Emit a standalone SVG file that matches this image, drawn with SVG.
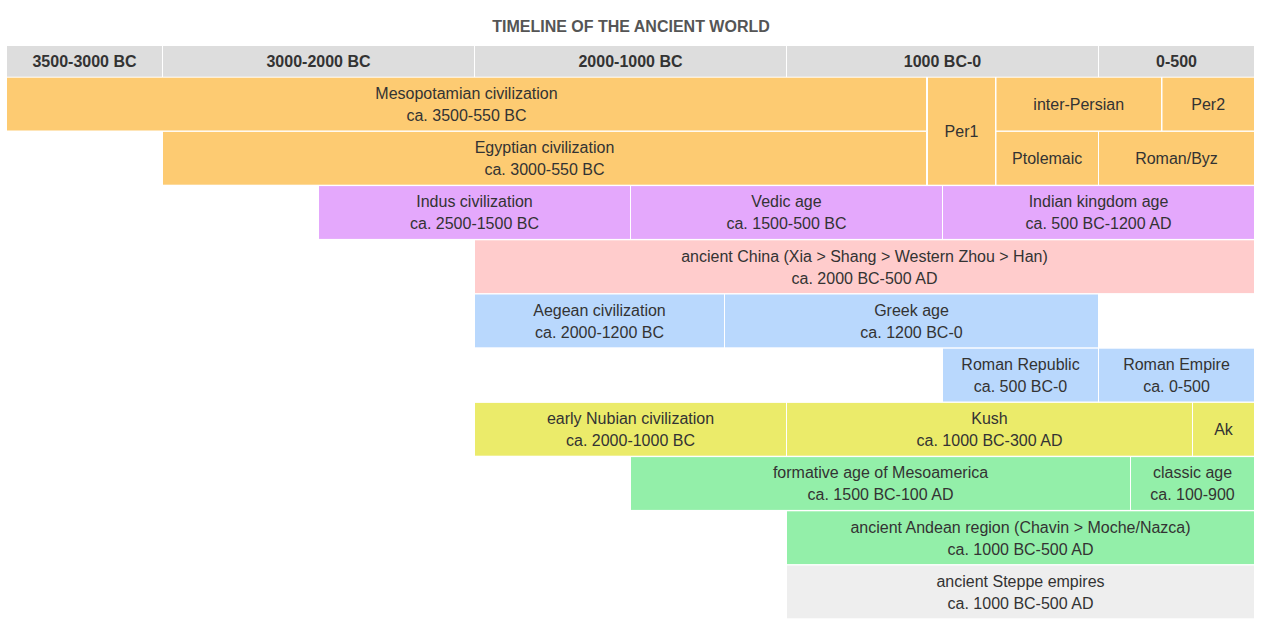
<svg xmlns="http://www.w3.org/2000/svg" width="1263" height="628" viewBox="0 0 1263 628">
<style>
text{font-family:"Liberation Sans",Arial,sans-serif;font-size:16px;fill:#333;text-anchor:middle}
.t{font-weight:bold;fill:#555}
.h{font-weight:bold}
.hd{fill:#dddddd}
.or{fill:#fdcb72}
.pu{fill:#e4a8fc}
.pk{fill:#ffcccc}
.bl{fill:#b9d8fd}
.ye{fill:#ebeb6a}
.gr{fill:#93efa9}
.gy{fill:#eeeeee}
</style>
<rect width="1263" height="628" fill="#ffffff"/>
<text class="t" x="631" y="32">TIMELINE OF THE ANCIENT WORLD</text>
<g id="header">
<rect class="hd" x="7" y="46" width="155" height="30.7"/><text class="h" x="84.5" y="67">3500-3000 BC</text>
<rect class="hd" x="163" y="46" width="311" height="30.7"/><text class="h" x="318.5" y="67">3000-2000 BC</text>
<rect class="hd" x="475" y="46" width="311" height="30.7"/><text class="h" x="630.5" y="67">2000-1000 BC</text>
<rect class="hd" x="787" y="46" width="311" height="30.7"/><text class="h" x="942.5" y="67">1000 BC-0</text>
<rect class="hd" x="1099" y="46" width="155" height="30.7"/><text class="h" x="1176.5" y="67">0-500</text>
</g>
<g id="mesopotamian"><rect class="or" x="7" y="77.7" width="919" height="52.8"/><text x="466.5" y="99">Mesopotamian civilization</text><text x="466.5" y="121">ca. 3500-550 BC</text></g>
<g id="per1"><rect class="or" x="928" y="77.7" width="67" height="107"/><text x="961.5" y="137">Per1</text></g>
<g id="inter-persian"><rect class="or" x="996.5" y="77.7" width="164.5" height="52.8"/><text x="1078.7" y="110">inter-Persian</text></g>
<g id="per2"><rect class="or" x="1162.5" y="77.7" width="91.5" height="52.8"/><text x="1208.2" y="110">Per2</text></g>
<g id="egyptian"><rect class="or" x="163" y="131.9" width="763" height="52.8"/><text x="544.5" y="153.2">Egyptian civilization</text><text x="544.5" y="175.2">ca. 3000-550 BC</text></g>
<g id="ptolemaic"><rect class="or" x="996.5" y="131.9" width="101.5" height="52.8"/><text x="1047.2" y="164.2">Ptolemaic</text></g>
<g id="roman-byz"><rect class="or" x="1099" y="131.9" width="155" height="52.8"/><text x="1176.5" y="164.2">Roman/Byz</text></g>
<g id="indus"><rect class="pu" x="319" y="186.1" width="311" height="52.8"/><text x="474.5" y="207.4">Indus civilization</text><text x="474.5" y="229.4">ca. 2500-1500 BC</text></g>
<g id="vedic"><rect class="pu" x="631" y="186.1" width="311" height="52.8"/><text x="786.5" y="207.4">Vedic age</text><text x="786.5" y="229.4">ca. 1500-500 BC</text></g>
<g id="indian-kingdom"><rect class="pu" x="943" y="186.1" width="311" height="52.8"/><text x="1098.5" y="207.4">Indian kingdom age</text><text x="1098.5" y="229.4">ca. 500 BC-1200 AD</text></g>
<g id="china"><rect class="pk" x="475" y="240.3" width="779" height="52.8"/><text x="864.5" y="261.6">ancient China (Xia &gt; Shang &gt; Western Zhou &gt; Han)</text><text x="864.5" y="283.6">ca. 2000 BC-500 AD</text></g>
<g id="aegean"><rect class="bl" x="475" y="294.5" width="249" height="52.8"/><text x="599.5" y="315.8">Aegean civilization</text><text x="599.5" y="337.8">ca. 2000-1200 BC</text></g>
<g id="greek"><rect class="bl" x="725" y="294.5" width="373" height="52.8"/><text x="911.5" y="315.8">Greek age</text><text x="911.5" y="337.8">ca. 1200 BC-0</text></g>
<g id="roman-republic"><rect class="bl" x="943" y="348.7" width="155" height="52.8"/><text x="1020.5" y="370">Roman Republic</text><text x="1020.5" y="392">ca. 500 BC-0</text></g>
<g id="roman-empire"><rect class="bl" x="1099" y="348.7" width="155" height="52.8"/><text x="1176.5" y="370">Roman Empire</text><text x="1176.5" y="392">ca. 0-500</text></g>
<g id="nubian"><rect class="ye" x="475" y="402.9" width="311" height="52.8"/><text x="630.5" y="424.2">early Nubian civilization</text><text x="630.5" y="446.2">ca. 2000-1000 BC</text></g>
<g id="kush"><rect class="ye" x="787" y="402.9" width="405" height="52.8"/><text x="989.5" y="424.2">Kush</text><text x="989.5" y="446.2">ca. 1000 BC-300 AD</text></g>
<g id="ak"><rect class="ye" x="1193" y="402.9" width="61" height="52.8"/><text x="1223.5" y="435.2">Ak</text></g>
<g id="mesoamerica-formative"><rect class="gr" x="631" y="457.1" width="499" height="52.8"/><text x="880.5" y="478.4">formative age of Mesoamerica</text><text x="880.5" y="500.4">ca. 1500 BC-100 AD</text></g>
<g id="mesoamerica-classic"><rect class="gr" x="1131" y="457.1" width="123" height="52.8"/><text x="1192.5" y="478.4">classic age</text><text x="1192.5" y="500.4">ca. 100-900</text></g>
<g id="andean"><rect class="gr" x="787" y="511.3" width="467" height="52.8"/><text x="1020.5" y="532.6">ancient Andean region (Chavin &gt; Moche/Nazca)</text><text x="1020.5" y="554.6">ca. 1000 BC-500 AD</text></g>
<g id="steppe"><rect class="gy" x="787" y="565.5" width="467" height="52.8"/><text x="1020.5" y="586.8">ancient Steppe empires</text><text x="1020.5" y="608.8">ca. 1000 BC-500 AD</text></g>
<g id="connectors"/>
</svg>
